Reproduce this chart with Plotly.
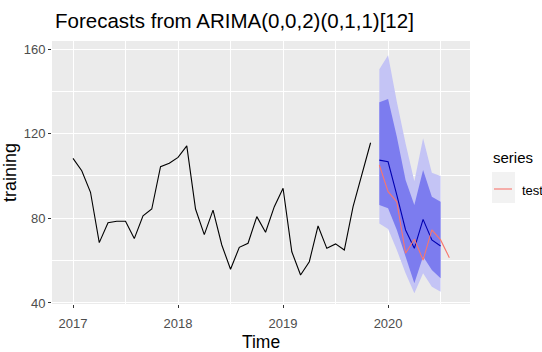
import plotly.graph_objects as go

# ---------------- data ----------------
train_start = 2017.0          # Jan 2017, monthly
training = [108.3, 102.5, 92.3, 68.5, 77.9, 78.6, 78.6, 70.4, 81.2, 84.4, 104.4, 106.0,
            108.8, 114.2, 84.4, 72.3, 83.9, 67.4, 55.9, 66.3, 68.2, 80.8, 73.4, 85.5,
            94.2, 64.2, 53.2, 59.5, 76.4, 65.8, 67.9, 65.0, 85.5, 100.9, 115.7]

fc_start = 2019 + 11 / 12     # Dec 2019, monthly
fc_mean = [107.5, 106.7, 91.0, 74.5, 65.8, 79.5, 69.8, 66.9]
lo80 = [86.3, 84.7, 74.5, 61.9, 49.3, 61.9, 55.6, 51.7]
hi80 = [134.8, 136.4, 118.6, 98.1, 86.3, 102.8, 90.2, 87.8]
lo95 = [77.5, 75.0, 65.0, 54.0, 44.6, 54.0, 47.7, 45.3]
hi95 = [150.5, 157.1, 135.1, 115.4, 97.5, 117.8, 101.5, 100.0]

test = [105.2, 92.6, 87.8, 63.5, 70.1, 60.3, 74.5, 69.8, 61.4]

x_ticks = [2017, 2018, 2019, 2020]
x_minor = [2017.5, 2018.5, 2019.5, 2020.5]
y_ticks = [40, 80, 120, 160]
y_minor = [60, 100, 140]

# --------------------------------------
t_train = [train_start + i / 12 for i in range(len(training))]
t_fc = [fc_start + i / 12 for i in range(len(fc_mean))]
t_test = [fc_start + i / 12 for i in range(len(test))]

FONT = "Liberation Sans, Arial, sans-serif"
W, H = 542, 352
L, R, T, B = 52, 470, 41, 304


def px(x):
    return (x - L) / (R - L)


def py(y):
    return (B - y) / (B - T)


fig = go.Figure()

# 95% band
fig.add_trace(go.Scatter(x=t_fc, y=lo95, mode="lines", line=dict(width=0, color="#C4C4F5"),
                         showlegend=False, hoverinfo="skip"))
fig.add_trace(go.Scatter(x=t_fc, y=hi95, mode="lines", line=dict(width=0, color="#C4C4F5"),
                         fill="tonexty", fillcolor="#C4C4F5", showlegend=False, hoverinfo="skip"))
# 80% band
fig.add_trace(go.Scatter(x=t_fc, y=lo80, mode="lines", line=dict(width=0, color="#7C7CF0"),
                         showlegend=False, hoverinfo="skip"))
fig.add_trace(go.Scatter(x=t_fc, y=hi80, mode="lines", line=dict(width=0, color="#7C7CF0"),
                         fill="tonexty", fillcolor="#7C7CEF", showlegend=False, hoverinfo="skip"))
# training
fig.add_trace(go.Scatter(x=t_train, y=training, mode="lines", line=dict(color="black", width=1.1),
                         showlegend=False, name="training"))
# point forecast
fig.add_trace(go.Scatter(x=t_fc, y=fc_mean, mode="lines", line=dict(color="#0000B0", width=1.1),
                         showlegend=False, name="forecast"))
# test
fig.add_trace(go.Scatter(x=t_test, y=test, mode="lines", line=dict(color="#F8766D", width=1.1),
                         showlegend=False, name="test"))

axis_common = dict(
    showgrid=True, gridcolor="white", gridwidth=1.1,
    zeroline=False, showline=False, automargin=False,
    ticks="outside", ticklen=3, tickwidth=1.1, tickcolor="#333333",
    tickfont=dict(family=FONT, size=13, color="#4D4D4D"),
)

fig.update_layout(
    width=W, height=H,
    margin=dict(l=L, r=W - R, t=T, b=H - B, pad=0),
    paper_bgcolor="white", plot_bgcolor="#EBEBEB",
    title=dict(text="Forecasts from ARIMA(0,0,2)(0,1,1)[12]",
               font=dict(family=FONT, size=20.5, color="black"),
               xref="container", yref="container", x=55 / W, xanchor="left",
               y=1 - 21 / H, yanchor="middle"),
    xaxis=dict(range=[2016.80, 2020.78], tickvals=x_ticks, ticktext=[str(v) for v in x_ticks],
               minor=dict(tickvals=x_minor, showgrid=True, gridcolor="white", gridwidth=0.55, ticks=""),
               ticklabelstandoff=4,
               title=dict(text="Time", font=dict(family=FONT, size=17.5, color="black"), standoff=8),
               **axis_common),
    yaxis=dict(range=[39.5, 163.8], tickvals=y_ticks, ticktext=[str(v) for v in y_ticks],
               minor=dict(tickvals=y_minor, showgrid=True, gridcolor="white", gridwidth=0.55, ticks=""),
               title=dict(text="training", font=dict(family=FONT, size=18, color="black"), standoff=6),
               **axis_common),
    showlegend=False,
)

# ggplot-style legend
fig.add_annotation(text="series", xref="paper", yref="paper", x=px(491), y=py(157),
                   xanchor="left", yanchor="middle", showarrow=False,
                   font=dict(family=FONT, size=15, color="black"))
fig.add_shape(type="rect", xref="paper", yref="paper", x0=px(492), x1=px(515), y0=py(203), y1=py(172),
              fillcolor="#F2F2F2", line=dict(width=0), layer="below")
fig.add_shape(type="line", xref="paper", yref="paper", x0=px(494), x1=px(512), y0=py(189), y1=py(189),
              line=dict(color="#F8766D", width=1.1))
fig.add_annotation(text="test", xref="paper", yref="paper", x=px(520), y=py(190),
                   xanchor="left", yanchor="middle", showarrow=False,
                   font=dict(family=FONT, size=13, color="black"))

fig.write_html("out.html")
